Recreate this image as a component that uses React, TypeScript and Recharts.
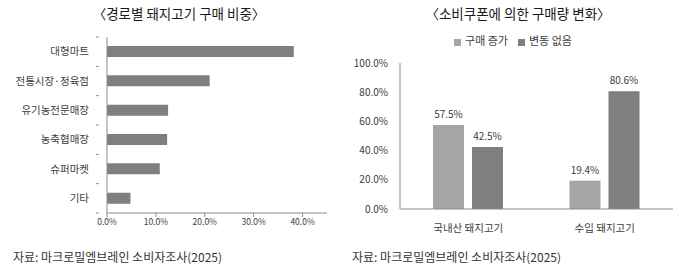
import React from 'react';
import {
  BarChart,
  Bar,
  XAxis,
  YAxis,
  Legend,
  LabelList,
} from 'recharts';

// left chart: purchase share by channel
const channels = ['대형마트', '전통시장·정육점', '유기농전문매장', '농축협매장', '슈퍼마켓', '기타'];
const channelShare = [0.382, 0.21, 0.125, 0.123, 0.108, 0.048];
const shareTicks = [0, 0.1, 0.2, 0.3, 0.4];

// right chart: change in purchase volume from consumption coupons
const porkTypes = ['국내산 돼지고기', '수입 돼지고기'];
const increased = [0.575, 0.194];
const unchanged = [0.425, 0.806];
const volumeTicks = [0, 0.2, 0.4, 0.6, 0.8, 1.0];

const FONT = '"Noto Sans CJK KR", "Noto Sans", sans-serif';
const TEXT = '#404040';
const AXIS = '#8c8c8c';

const shareData = channels.map((name, i) => ({ name, value: channelShare[i] }));
const volumeData = porkTypes.map((name, i) => ({
  name,
  '구매 증가': increased[i],
  '변동 없음': unchanged[i],
}));

const pct = (v: number) => `${(v * 100).toFixed(1)}%`;

const LEFT_TOP = 37;
const LEFT_BOTTOM = 54;
const LEFT_H = 267;
const bandH = (LEFT_H - LEFT_TOP - LEFT_BOTTOM) / channels.length;

// category ticks sit between bars, like the spreadsheet original
function ChannelTick(props: any) {
  const { x, y, payload, index } = props;
  return (
    <g>
      <line x1={x - 3} x2={x} y1={y - bandH / 2} y2={y - bandH / 2} stroke={AXIS} />
      {index === channels.length - 1 && (
        <line x1={x - 3} x2={x} y1={y + bandH / 2} y2={y + bandH / 2} stroke={AXIS} />
      )}
      <text x={x - 10} y={y} dy="0.35em" textAnchor="end" fill={TEXT} fontSize={10.5} fontFamily={FONT}>
        {payload.value}
      </text>
    </g>
  );
}

const titleStyle: React.CSSProperties = {
  position: 'absolute',
  top: 3,
  width: 340,
  textAlign: 'center',
  fontSize: 13.5,
  lineHeight: '20px',
  color: '#1a1a1a',
  fontFamily: FONT,
};

const sourceStyle: React.CSSProperties = {
  position: 'absolute',
  top: 249,
  fontSize: 12,
  lineHeight: '16px',
  color: '#333',
  fontFamily: FONT,
  whiteSpace: 'nowrap',
};

export default function App() {
  return (
    <div
      style={{
        position: 'fixed',
        left: 0,
        top: 0,
        width: 680,
        height: 267,
        background: '#fff',
        fontFamily: FONT,
        overflow: 'hidden',
      }}
    >
      <div style={{ ...titleStyle, left: 9 }}>〈경로별 돼지고기 구매 비중〉</div>
      <div style={{ ...titleStyle, left: 348 }}>〈소비쿠폰에 의한 구매량 변화〉</div>

      <div style={{ position: 'absolute', left: 0, top: 0 }}>
        <BarChart
          width={340}
          height={LEFT_H}
          data={shareData}
          layout="vertical"
          margin={{ top: LEFT_TOP, right: 13, left: 0, bottom: LEFT_BOTTOM - 24 }}
        >
          <XAxis
            type="number"
            domain={[0, 0.45]}
            ticks={shareTicks}
            tickFormatter={pct}
            height={24}
            axisLine={{ stroke: AXIS }}
            tickLine={{ stroke: AXIS }}
            tickSize={4}
            tick={{ fontSize: 8.5, fill: TEXT, fontFamily: FONT }}
          />
          <YAxis
            type="category"
            dataKey="name"
            width={107}
            axisLine={{ stroke: AXIS }}
            tickLine={false}
            tick={<ChannelTick />}
            interval={0}
          />
          <Bar dataKey="value" fill="#7f7f7f" barSize={11} isAnimationActive={false} />
        </BarChart>
      </div>

      <div style={{ position: 'absolute', left: 340, top: 0 }}>
        <BarChart
          width={340}
          height={267}
          data={volumeData}
          barSize={31}
          barGap={8}
          margin={{ top: 63, right: 7, left: 0, bottom: 34 }}
        >
          <Legend
            verticalAlign="middle"
            align="center"
            iconType="square"
            iconSize={7}
            wrapperStyle={{ top: 32, left: 8, width: 340, fontSize: 11, fontFamily: FONT }}
            formatter={(value) => <span style={{ color: TEXT }}>{value}</span>}
          />
          <XAxis
            dataKey="name"
            height={24}
            axisLine={{ stroke: AXIS }}
            tickLine={false}
            tick={{ fontSize: 10.5, fill: TEXT, fontFamily: FONT }}
            tickMargin={10}
          />
          <YAxis
            domain={[0, 1]}
            ticks={volumeTicks}
            tickFormatter={pct}
            width={60}
            axisLine={{ stroke: AXIS }}
            tickLine={false}
            tick={{ fontSize: 10, fill: TEXT, fontFamily: FONT }}
            tickMargin={6}
          />
          <Bar dataKey="구매 증가" fill="#a5a5a5" isAnimationActive={false}>
            <LabelList dataKey="구매 증가" position="top" offset={7} formatter={pct} fontSize={10} fill={TEXT} fontFamily={FONT} />
          </Bar>
          <Bar dataKey="변동 없음" fill="#7f7f7f" isAnimationActive={false}>
            <LabelList dataKey="변동 없음" position="top" offset={7} formatter={pct} fontSize={10} fill={TEXT} fontFamily={FONT} />
          </Bar>
        </BarChart>
      </div>

      <div style={{ ...sourceStyle, left: 13 }}>자료: 마크로밀엠브레인 소비자조사(2025)</div>
      <div style={{ ...sourceStyle, left: 352 }}>자료: 마크로밀엠브레인 소비자조사(2025)</div>
    </div>
  );
}
